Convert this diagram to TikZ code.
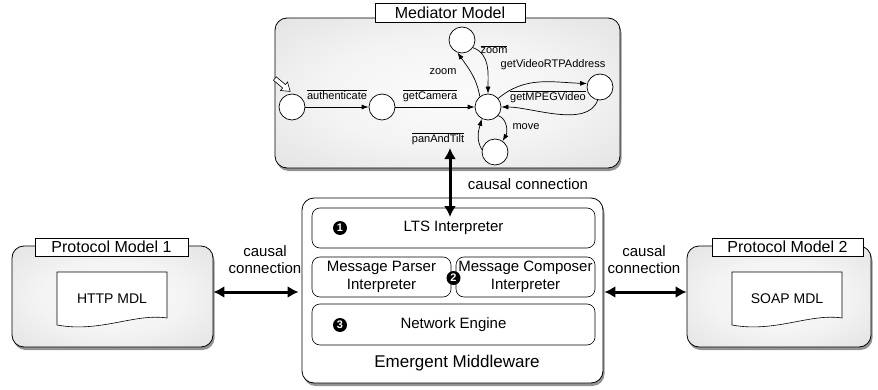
\documentclass[tikz,border=0pt]{standalone}
\usepackage{fontspec}
\setmainfont{Liberation Sans}
\usetikzlibrary{arrows.meta,shadows}
\newcommand{\outmsg}[1]{$\overline{\mbox{#1}}$}
\pgfdeclareradialshading{modelshade}{\pgfpoint{0bp}{0bp}}{color(0bp)=(gray!3); color(18bp)=(gray!9); color(50bp)=(gray!32); color(70bp)=(gray!42)}
\tikzset{
  model/.style={draw, rounded corners=12pt, line width=0.8pt, shading=modelshade,
    drop shadow={shadow xshift=1.5pt, shadow yshift=-3pt, opacity=0.85}},
  titlebox/.style={draw, fill=white, line width=0.6pt, inner sep=0pt, font=\fontsize{16}{18}\selectfont},
  st/.style={circle, draw, fill=white, minimum size=26pt, inner sep=0pt, line width=0.7pt},
  tr/.style={-{Latex[length=7pt,width=5pt]}, line width=0.7pt},
  lbl/.style={font=\fontsize{11}{13}\selectfont, inner sep=1pt},
  part/.style={draw, rounded corners=8pt, fill=white, line width=0.6pt, inner sep=0pt, align=center, font=\fontsize{15}{18}\selectfont},
  bullet/.style={circle, fill=black, text=white, inner sep=0pt, minimum size=14pt, font=\bfseries\fontsize{11}{11}\selectfont},
  causal/.style={{Latex[length=11pt,width=12pt]}-{Latex[length=11pt,width=12pt]}, line width=3pt},
  cclabel/.style={font=\fontsize{15}{17}\selectfont, align=center, inner sep=0pt},
  doc/.style={draw, fill=white, line width=0.6pt}
}
\begin{document}
\begin{tikzpicture}[x=1pt,y=1pt]
\useasboundingbox (0,0) rectangle (878,389);
% mediator model
\node[model, minimum width=345pt, minimum height=150pt] (med) at (447.5,296) {};
\node[titlebox, minimum width=150pt, minimum height=19pt] (medtitle) at (450,376.5) {Mediator Model};
\node[st] (s0) at (292,282) {};
\node[st] (s1) at (382,282) {};
\node[st] (s2) at (488,282) {};
\node[st] (s3) at (462,349) {};
\node[st] (s4) at (600,302) {};
\node[st] (s5) at (495,237) {};
% initial state marker
\begin{scope}[shift={(282.5,304)}, rotate=-40]
\draw[fill=white, line width=0.6pt] (-10,-2.2) -- (2,-2.2) -- (2,-5.5) -- (10,0) -- (2,5.5) -- (2,2.2) -- (-10,2.2) -- cycle;
\end{scope}
\draw[tr] (s0) -- (s1);
\draw[tr] (s1) -- (s2);
\draw[tr] (s2.128) to[out=100, in=-55] (s3.-110);
\draw[tr] (s3.-35) to[out=-20, in=90] (s2.90);
\draw[tr] (s2.40) to[out=40, in=178] (s4.165);
\draw[tr] (s4.-100) to[out=-110, in=0, looseness=0.8] (s2.0);
\draw[tr] (s2.-40) to[out=-20, in=60] (s5.55);
\draw[tr] (s5.170) to[out=120, in=-105] (s2.-118);
\node[lbl] (l01) at (337,294) {\outmsg{authenticate}};
\node[lbl] (l12) at (430,293) {\outmsg{getCamera}};
\node[lbl] (l23) at (443,317) {zoom};
\node[lbl] (l32) at (494,339) {\outmsg{zoom}};
\node[lbl] (l24) at (553,324) {getVideoRTPAddress};
\node[lbl] (l42) at (548,292) {\outmsg{getMPEGVideo}};
\node[lbl] (l25) at (526,262) {move};
\node[lbl] (l52) at (438,250) {\outmsg{panAndTilt}};
% emergent middleware
\node[draw, fill=white, rounded corners=12pt, line width=0.8pt, minimum width=301pt, minimum height=185pt,
  drop shadow={shadow xshift=1.5pt, shadow yshift=-3pt, opacity=0.85}] (mw) at (452.5,98.5) {};
\node[font=\fontsize{17}{19}\selectfont] (mwname) at (457,26) {Emergent Middleware};
\node[part, minimum width=283pt, minimum height=40pt] (lts) at (453.5,161) {LTS Interpreter};
\node[part, minimum width=139pt, minimum height=40pt] (parser) at (381.5,112) {Message Parser\\Interpreter};
\node[part, minimum width=139pt, minimum height=40pt] (composer) at (525.5,112) {Message Composer\\Interpreter};
\node[part, minimum width=283pt, minimum height=41pt] (neteng) at (453.5,64.5) {Network Engine};
\node[bullet] (b1) at (340,161) {1};
\node[bullet] (b2) at (453.5,111) {2};
\node[bullet] (b3) at (340,64) {3};
% protocol models
\node[model, minimum width=201pt, minimum height=101pt] (pm1) at (112.5,92.5) {};
\node[titlebox, minimum width=153pt, minimum height=18pt] (pm1title) at (111.5,142) {Protocol Model 1};
\draw[doc] (57,117) -- (167,117) -- (167,71) .. controls (135,76) and (100,56) .. (57,64) -- cycle;
\node[font=\fontsize{14}{16}\selectfont] (http) at (112,90) {HTTP MDL};
\node[model, minimum width=184pt, minimum height=101pt] (pm2) at (779,92.5) {};
\node[titlebox, minimum width=151pt, minimum height=18pt] (pm2title) at (787.5,142) {Protocol Model 2};
\draw[doc] (732,117) -- (842,117) -- (842,71) .. controls (810,76) and (775,56) .. (732,64) -- cycle;
\node[font=\fontsize{14}{16}\selectfont] (soap) at (787,90) {SOAP MDL};
% causal connections
\coordinate (cctop) at (450,241);
\coordinate (ccbot) at (450,172);
\coordinate (lv) at (0,97);
\draw[causal] (cctop) -- (ccbot);
\node[cclabel] (cc0) at (528,205) {causal connection};
\draw[causal] (pm1.east |- lv) -- ([xshift=-3pt]mw.west |- lv);
\node[cclabel] (cc1) at (265,129) {causal\\connection};
\draw[causal] ([xshift=1pt]mw.east |- lv) -- (pm2.west |- lv);
\node[cclabel] (cc2) at (644,129) {causal\\connection};
\end{tikzpicture}
\end{document}
